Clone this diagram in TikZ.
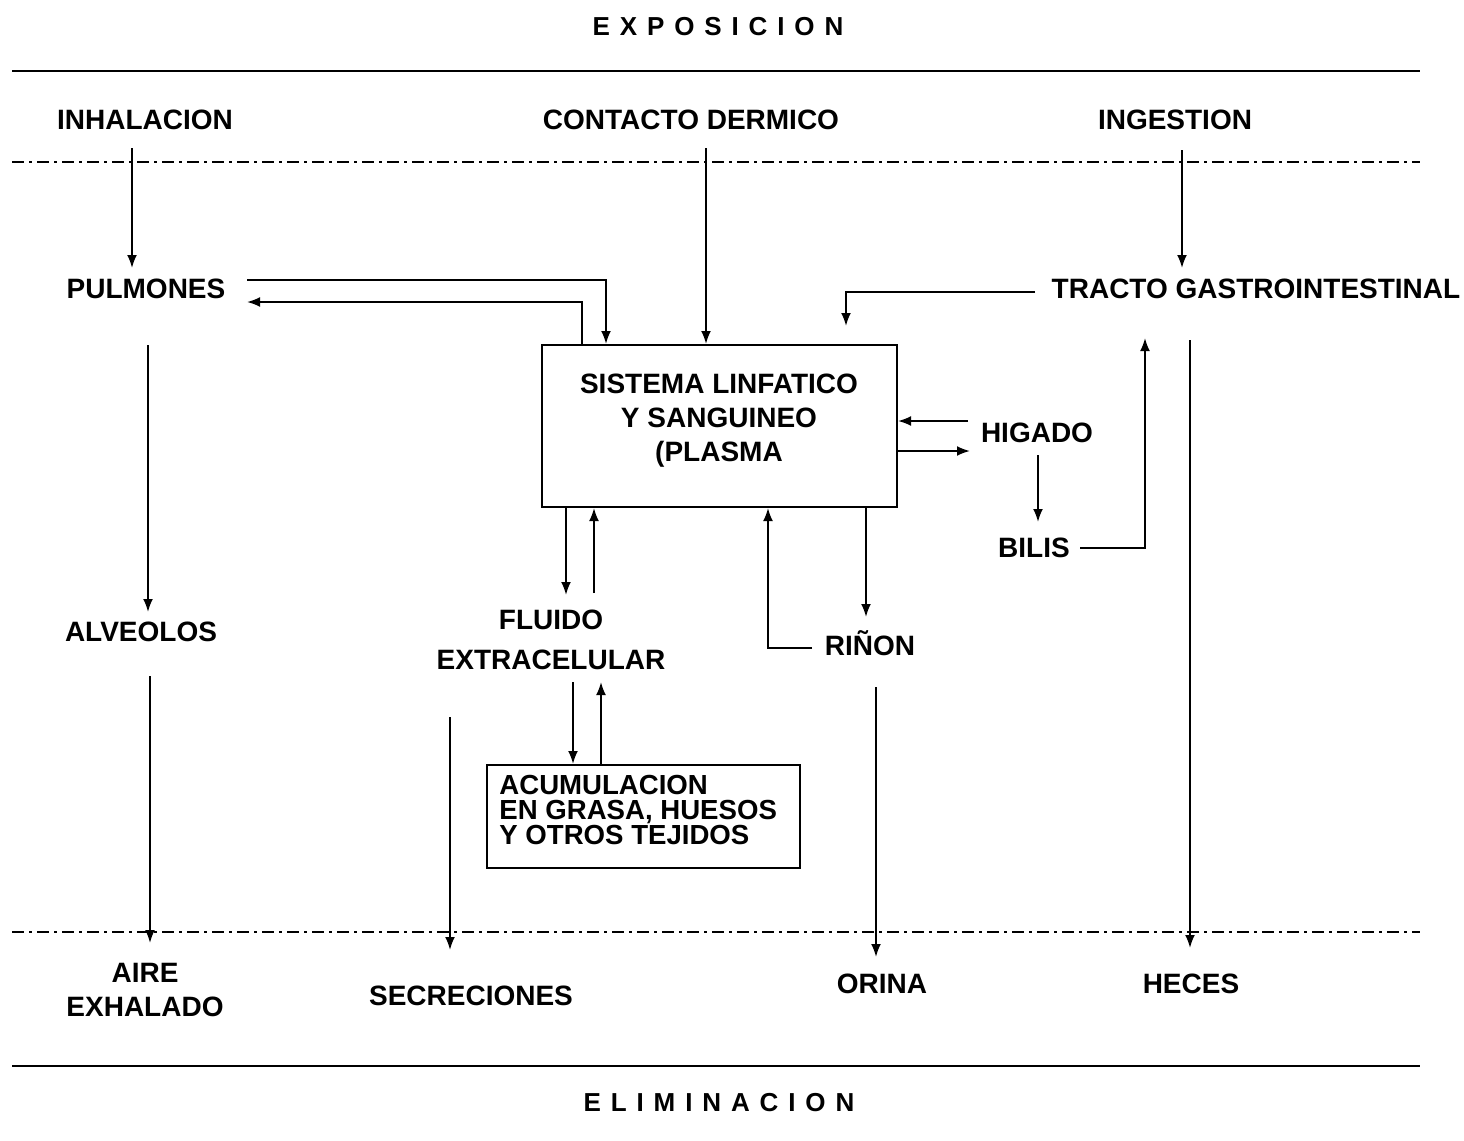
\documentclass[tikz,border=0pt]{standalone}
\usepackage{fontspec}
\setmainfont{Liberation Sans}
\newfontfamily\spacedfont[LetterSpace=38]{Liberation Sans}
\usetikzlibrary{calc,arrows.meta}
\begin{document}
\begin{tikzpicture}[x=0.5pt,y=-0.5pt,
  lbl/.style={font=\fontsize{14}{17}\selectfont\bfseries, inner sep=0pt},
  heading/.style={font=\fontsize{13}{15}\selectfont\spacedfont\bfseries, inner sep=0pt},
  arr/.style={-{Latex[length=6.5pt,width=5pt]}, line width=1pt},
  frame/.style={draw, line width=1pt, inner sep=0pt},
  band/.style={line width=1pt},
  dashdot/.style={line width=0.8pt, dash pattern=on 6pt off 2.5pt on 1.5pt off 2.5pt}]

% canvas
\fill[white] (0,0) rectangle (1464,1141);

% section headings and separators
\node[heading] (expo) at (718,27) {EXPOSICION};
\node[heading] (elim) at (719,1103) {ELIMINACION};
\coordinate (topL) at (12,71);   \coordinate (topR) at (1420,71);
\coordinate (dtL) at (12,162);   \coordinate (dtR) at (1420,162);
\coordinate (dbL) at (12,932);   \coordinate (dbR) at (1420,932);
\coordinate (botL) at (12,1066); \coordinate (botR) at (1420,1066);
\draw[band] (topL) -- (topR);
\draw[dashdot] (dtL) -- (dtR);
\draw[dashdot] (dbL) -- (dbR);
\draw[band] (botL) -- (botR);

% routes of exposure
\node[lbl] (inh) at (145,120) {INHALACION};
\node[lbl] (con) at (691,120) {CONTACTO DERMICO};
\node[lbl] (ing) at (1175,120) {INGESTION};

% organs and compartments
\node[lbl] (pul) at (146,289) {PULMONES};
\node[lbl] (tgi) at (1256,289) {TRACTO GASTROINTESTINAL};
\node[frame, minimum width=177.5pt, minimum height=81pt] (sis) at (719.5,426) {};
\node[lbl, align=center] (sistxt) at (719,421) {SISTEMA LINFATICO\\Y SANGUINEO\\(PLASMA};
\node[lbl] (hig) at (1037,433) {HIGADO};
\node[lbl] (bil) at (1034,548) {BILIS};
\node[lbl, align=center, font=\fontsize{14}{20}\selectfont\bfseries] (flu) at (551,640) {FLUIDO\\EXTRACELULAR};
\node[lbl] (rin) at (870,643) {RIÑON};
\node[lbl] (alv) at (141,632) {ALVEOLOS};
\node[frame, minimum width=156.5pt, minimum height=51.5pt] (acu) at (643.5,816.5) {};
\node[lbl, align=left, anchor=west, font=\fontsize{13.8}{12.6}\selectfont\bfseries] (acutxt) at (499,810) {ACUMULACION\\EN GRASA, HUESOS\\Y OTROS TEJIDOS};

% routes of elimination
\node[lbl, align=center] (aire) at (145,990) {AIRE\\EXHALADO};
\node[lbl] (sec) at (471,996) {SECRECIONES};
\node[lbl] (ori) at (882,984) {ORINA};
\node[lbl] (hec) at (1191,984) {HECES};
\coordinate (secsrc) at (450,717);

% uptake
\draw[arr] ($(inh)+(-13,28)$) -- ($(pul)+(-14,-21)$);
\draw[arr] ($(con)+(15,28)$) -- ($(sis.north)+(-13.5,0)$);
\draw[arr] ($(ing)+(7,30)$) -- ($(tgi)+(-74,-21)$);

% lungs <-> blood
\draw[arr] ($(pul)+(101,-9)$) -| ($(sis.north)+(-113.5,0)$);
\draw[arr] ($(sis.north)+(-137.5,0)$) |- ($(pul)+(101,13)$);

% gut -> blood
\draw[arr] ($(tgi)+(-221,3)$) -| ($(sis.north)+(126.5,-18)$);

% liver
\draw[arr] ($(hig)+(-69,-12)$) -- ($(sis.east)+(0,-5)$);
\draw[arr] ($(sis.east)+(0,25)$) -- ($(hig)+(-67,18)$);
\draw[arr] ($(hig)+(1,22)$) -- ($(bil)+(4,-26)$);
\draw[arr] ($(bil)+(46,0)$) -| ($(tgi)+(-111,49)$);

% kidney
\draw[arr] ($(sis.south)+(146.5,0)$) -- ($(rin)+(-4,-26)$);
\draw[arr] ($(rin)+(-58,5)$) -| ($(sis.south)+(48.5,0)$);

% extracellular fluid and storage
\draw[arr] ($(sis.south)+(-153.5,0)$) -- ($(flu)+(15,-45)$);
\draw[arr] ($(flu)+(43,-47)$) -- ($(sis.south)+(-125.5,0)$);
\draw[arr] ($(flu)+(22,42)$) -- ($(acu.north)+(-70.5,0)$);
\draw[arr] ($(acu.north)+(-42.5,0)$) -- ($(flu)+(50,42)$);

% alveoli
\draw[arr] ($(pul)+(2,56)$) -- ($(alv)+(7,-20)$);

% elimination
\draw[arr] ($(alv)+(9,44)$) -- ($(aire)+(5,-47)$);
\draw[arr] (secsrc) -- ($(sec)+(-21,-46)$);
\draw[arr] ($(rin)+(6,44)$) -- ($(ori)+(-6,-27)$);
\draw[arr] ($(tgi)+(-66,51)$) -- ($(hec)+(-1,-36)$);
\end{tikzpicture}
\end{document}
